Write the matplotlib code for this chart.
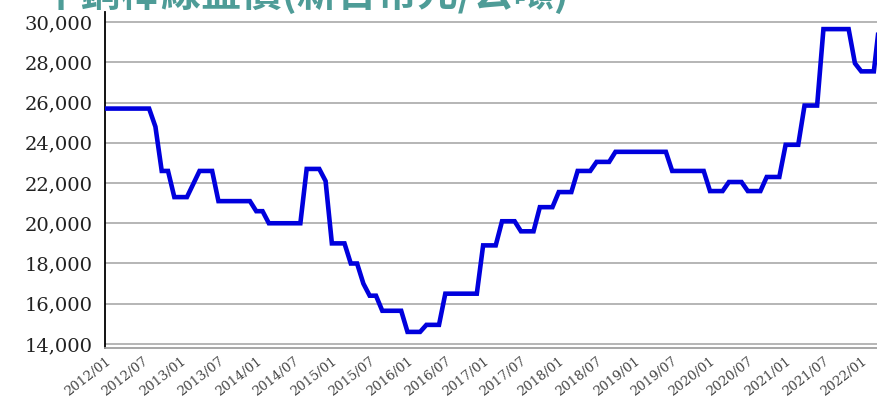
import matplotlib
matplotlib.use("Agg")
import matplotlib.pyplot as plt
from matplotlib.ticker import FuncFormatter

# monthly price, 2012/01 onward (NT$/metric ton)
prices = [
    25700, 25700, 25700, 25700, 25700, 25700, 25700, 25700,   # 2012/01-08
    24800, 22600, 22600, 21300, 21300, 21300, 21950, 22600,   # 2012/09-2013/04
    22600, 22600, 21100, 21100, 21100, 21100, 21100, 21100,   # 2013/05-12
    20600, 20600, 20000, 20000, 20000, 20000, 20000, 20000,   # 2014/01-08
    22700, 22700, 22700, 22100, 19000, 19000, 19000, 18000,   # 2014/09-2015/04
    18000, 17000, 16400, 16400, 15650, 15650, 15650, 15650,   # 2015/05-12
    14600, 14600, 14600, 14950, 14950, 14950, 16500, 16500,   # 2016/01-08
    16500, 16500, 16500, 16500, 18900, 18900, 18900, 20100,   # 2016/09-2017/04
    20100, 20100, 19600, 19600, 19600, 20800, 20800, 20800,   # 2017/05-12
    21550, 21550, 21550, 22600, 22600, 22600, 23050, 23050,   # 2018/01-08
    23050, 23550, 23550, 23550, 23550, 23550, 23550, 23550,   # 2018/09-2019/04
    23550, 23550, 22600, 22600, 22600, 22600, 22600, 22600,   # 2019/05-12
    21600, 21600, 21600, 22050, 22050, 22050, 21600, 21600,   # 2020/01-08
    21600, 22300, 22300, 22300, 23900, 23900, 23900, 25850,   # 2020/09-2021/04
    25850, 25850, 29650, 29650, 29650, 29650, 29650, 27950,   # 2021/05-12
    27550, 27550, 27550, 30300,                               # 2022/01-04
]
months = list(range(len(prices)))

tick_labels = [f"{y}/{m:02d}" for y in range(2012, 2023) for m in (1, 7)][:21]
tick_pos = [i * 6 for i in range(len(tick_labels))]
yticks = list(range(14000, 30001, 2000))

# the title sits partly above the top edge, as in the source image
title = "中鋼棒線盤價(新台幣元/公噸)"

fig = plt.figure(figsize=(8.77, 4.05), dpi=100)
ax = fig.add_axes([105 / 877, 1 - 348 / 405, 1 - 105 / 877, (348 - 12) / 405])

ax.plot(months, prices, color="#0000dd", lw=3.3, solid_joinstyle="miter", zorder=3)

ax.set_xlim(0, 122.5)
ax.set_ylim(13800, 30500)
ax.set_yticks(yticks)
ax.yaxis.set_major_formatter(FuncFormatter(lambda v, p: f"{int(v):,}"))
ax.set_xticks(tick_pos)
ax.set_xticklabels(tick_labels, rotation=38, ha="right", rotation_mode="anchor",
                   family="DejaVu Serif", fontsize=9.5, color="#444444")
for lab in ax.get_yticklabels():
    lab.set_family("DejaVu Serif")
    lab.set_fontsize(14)
    lab.set_color("#222222")
ax.tick_params(axis="both", length=0)
ax.tick_params(axis="y", pad=9)
ax.tick_params(axis="x", pad=5)

ax.grid(axis="y", color="#b0b0b0", lw=1.3)
ax.set_axisbelow(True)
for s in ("top", "right"):
    ax.spines[s].set_visible(False)
ax.spines["left"].set_color("black")
ax.spines["left"].set_linewidth(1.3)
ax.spines["bottom"].set_color("#a0a0a0")
ax.spines["bottom"].set_linewidth(1.3)

fig.text(40 / 877, 1 - 6 / 405, title, family=["Noto Sans CJK TC", "DejaVu Sans"],
         fontsize=29, fontweight="bold", color="#4e9c97", va="baseline", ha="left")

fig.savefig("out.png", dpi=100)
